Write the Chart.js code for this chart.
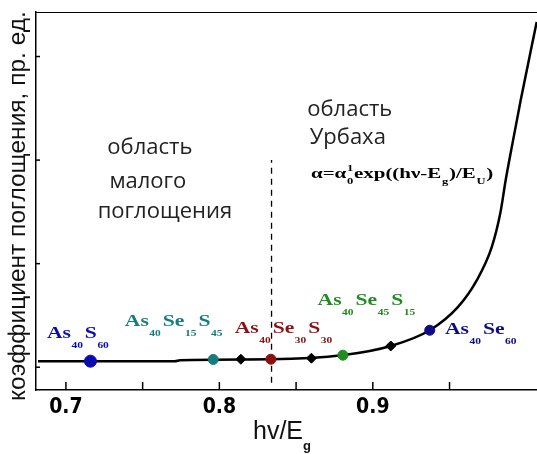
<!DOCTYPE html>
<html>
<head>
<meta charset="utf-8">
<script src="https://cdn.jsdelivr.net/npm/chart.js@4"></script>
<style>
  html, body { margin: 0; padding: 0; background: #fff; }
  #wrap { width: 537px; height: 454px; }
</style>
</head>
<body>
<div id="wrap"><canvas id="c" width="537" height="454"></canvas></div>
<script>
// absorption edge curve (hv/Eg vs. alpha, arb. units)
const curveX = [0.6818, 0.771, 0.7743, 0.8336, 0.8811, 0.9117, 0.9371, 0.9554, 0.9678, 0.9775, 0.9831, 0.9866, 0.9902, 0.9964, 1.0068];
const curveY = [0.058, 0.058, 0.068, 0.077, 0.118, 0.205, 0.357, 0.58, 0.841, 1.159, 1.488, 1.807, 2.097, 2.58, 3.333];

// compositions on the curve
const compNames = ['As40S60', 'As40Se15S45', '', 'As40Se30S30', '', 'As40Se45S15', '', 'As40Se60'];
const compX = [0.716, 0.796, 0.814, 0.8336, 0.860, 0.8805, 0.9117, 0.9371];
const compY = [0.058, 0.075, 0.077, 0.077, 0.087, 0.116, 0.205, 0.357];

// boundary between the two regions
const edgeX = 0.834;
const edgeY = [-0.15, 2.0];

const xTicks = [0.7, 0.75, 0.8, 0.85, 0.9, 0.95];
const xTickLabels = ['0.7', '', '0.8', '', '0.9', ''];
const yTicks = [0, 1, 2, 3];

const compColor = {
  'As40S60': '#0a0ab4', 'As40Se15S45': '#147c7c', 'As40Se30S30': '#8c1010',
  'As40Se45S15': '#1e8c1e', 'As40Se60': '#0c0c84', '': '#000'
};

const labels = [
  { name: 'As40S60', parts: ['As', '40', 'S', '60'], x: 0.6876, y: 0.28 },
  { name: 'As40Se15S45', parts: ['As', '40', 'Se', '15', 'S', '45'], x: 0.7384, y: 0.396 },
  { name: 'As40Se30S30', parts: ['As', '40', 'Se', '30', 'S', '30'], x: 0.810, y: 0.33 },
  { name: 'As40Se45S15', parts: ['As', '40', 'Se', '45', 'S', '15'], x: 0.864, y: 0.60 },
  { name: 'As40Se60', parts: ['As', '40', 'Se', '60'], x: 0.947, y: 0.32 }
];

const textPlugin = {
  id: 'texts',
  afterDraw(chart) {
    const ctx = chart.ctx;
    const xs = chart.scales.x, ys = chart.scales.y;
    const a = chart.chartArea;
    ctx.save();
    // top frame line + inward ticks
    ctx.strokeStyle = '#000';
    ctx.lineWidth = 1;
    ctx.beginPath(); ctx.moveTo(a.left, a.top + 0.5); ctx.lineTo(a.right, a.top + 0.5); ctx.stroke();
    ctx.lineWidth = 1.5;
    xTicks.forEach(v => {
      const px = xs.getPixelForValue(v);
      ctx.beginPath(); ctx.moveTo(px, a.bottom); ctx.lineTo(px, a.bottom - 8); ctx.stroke();
    });
    yTicks.forEach(v => {
      const py = ys.getPixelForValue(v);
      ctx.beginPath(); ctx.moveTo(a.left, py); ctx.lineTo(a.left + 4, py); ctx.stroke();
    });

    // region captions
    ctx.fillStyle = '#222';
    ctx.font = '22px "Open Sans"';
    ctx.textAlign = 'center';
    ctx.textBaseline = 'middle';
    [['область', 0.7547, 2.116], ['малого', 0.7534, 1.787], ['поглощения', 0.7645, 1.498],
     ['область', 0.885, 2.483], ['Урбаха', 0.8837, 2.213]].forEach(t => {
      ctx.fillText(t[0], xs.getPixelForValue(t[1]), ys.getPixelForValue(t[2]));
    });

    // Urbach formula, stretched to its width in the figure
    ctx.textAlign = 'left';
    ctx.textBaseline = 'alphabetic';
    ctx.fillStyle = '#000';
    const seg = [['α=α', 0], ['1', -1], ['0', 1], ['exp((hν-E', 0], ['g', 1], [')/E', 0], ['U', 1], [')', 0]];
    const segFont = s => s[1] === 0 ? 'bold 15px "Liberation Serif"' : 'bold 9px "Liberation Serif"';
    let total = 0;
    seg.forEach(s => { ctx.font = segFont(s); if (s[1] !== -1) total += ctx.measureText(s[0]).width + 0.5; });
    const fx0 = xs.getPixelForValue(0.8597), fy = ys.getPixelForValue(1.83);
    const fw = xs.getPixelForValue(0.9789) - fx0;
    ctx.translate(fx0, fy);
    ctx.scale(fw / total, 1);
    let fx = 0;
    seg.forEach(s => {
      ctx.font = segFont(s);
      const dy = s[1] === 1 ? 6 : (s[1] === -1 ? -7 : 0);
      ctx.fillText(s[0], fx, dy);
      if (s[1] !== -1) fx += ctx.measureText(s[0]).width + 0.5;
    });
    ctx.setTransform(1, 0, 0, 1, 0, 0);

    // composition labels (wide bold serif with small subscripts)
    const sx = 1.35;
    labels.forEach(l => {
      let lx = xs.getPixelForValue(l.x), ly = ys.getPixelForValue(l.y);
      ctx.fillStyle = compColor[l.name];
      l.parts.forEach((p, i) => {
        const sub = i % 2 === 1;
        ctx.font = sub ? 'bold 8.5px "Liberation Serif"' : 'bold 16px "Liberation Serif"';
        ctx.save();
        ctx.translate(lx, ly + (sub ? 10 : 0));
        ctx.scale(sx, 1);
        ctx.fillText(p, 0, 0);
        ctx.restore();
        lx += ctx.measureText(p).width * sx + (sub ? 2 : 0.5);
      });
    });

    // axis titles
    ctx.fillStyle = '#111';
    ctx.font = '25px "Liberation Sans"';
    const tx = 253, ty = 439;
    ctx.fillText('hv/E', tx, ty);
    const w = ctx.measureText('hv/E').width;
    ctx.font = 'bold 13px "Liberation Sans"';
    ctx.fillText('g', tx + w, ty + 11);

    ctx.translate(18, 206);
    ctx.rotate(-Math.PI / 2);
    ctx.textAlign = 'center';
    ctx.textBaseline = 'middle';
    ctx.font = '24.5px "Liberation Sans"';
    ctx.fillText('коэффициент поглощения, пр. ед.', 0, 0);
    ctx.restore();
  }
};

new Chart(document.getElementById('c'), {
  type: 'scatter',
  data: {
    datasets: [
      {
        data: curveX.map((x, i) => ({ x: x, y: curveY[i] })),
        showLine: true,
        borderColor: '#000',
        borderWidth: 2.5,
        pointRadius: 0,
        cubicInterpolationMode: 'monotone',
        clip: false,
        order: 2
      },
      {
        data: edgeY.map(y => ({ x: edgeX, y: y })),
        showLine: true,
        borderColor: '#000',
        borderWidth: 1.3,
        borderDash: [6, 5],
        pointRadius: 0,
        order: 3
      },
      {
        data: compX.map((x, i) => ({ x: x, y: compY[i] })),
        pointBackgroundColor: compNames.map(n => compColor[n]),
        pointBorderColor: compNames.map(n => compColor[n]),
        pointStyle: compNames.map(n => n === '' ? 'rectRot' : 'circle'),
        pointRadius: compNames.map((n, i) => i === 0 ? 6 : 5),
        order: 1
      }
    ]
  },
  options: {
    responsive: false,
    animation: false,
    layout: { autoPadding: false, padding: { top: 12, right: 0, left: 0, bottom: 0 } },
    plugins: { legend: { display: false }, tooltip: { enabled: false } },
    scales: {
      x: {
        type: 'linear',
        min: 0.6805,
        max: 1.007,
        afterBuildTicks: s => { s.ticks = xTicks.map(v => ({ value: v })); },
        afterFit: s => { s.height = 64; s.paddingLeft = 0; s.paddingRight = 0; },
        ticks: {
          callback: (v, i) => xTickLabels[i],
          color: '#000',
          padding: 5,
          maxRotation: 0,
          autoSkip: false,
          font: { family: 'DejaVu Sans Condensed', weight: 'bold', size: 21 }
        },
        grid: { display: false, drawTicks: false },
        border: { display: true, color: '#000', width: 1.5 }
      },
      y: {
        min: -0.22,
        max: 3.43,
        afterFit: s => { s.width = 36; },
        ticks: { display: false },
        grid: { display: false, drawTicks: false },
        border: { display: true, color: '#000', width: 1.5 }
      }
    }
  },
  plugins: [textPlugin]
});
</script>
</body>
</html>
